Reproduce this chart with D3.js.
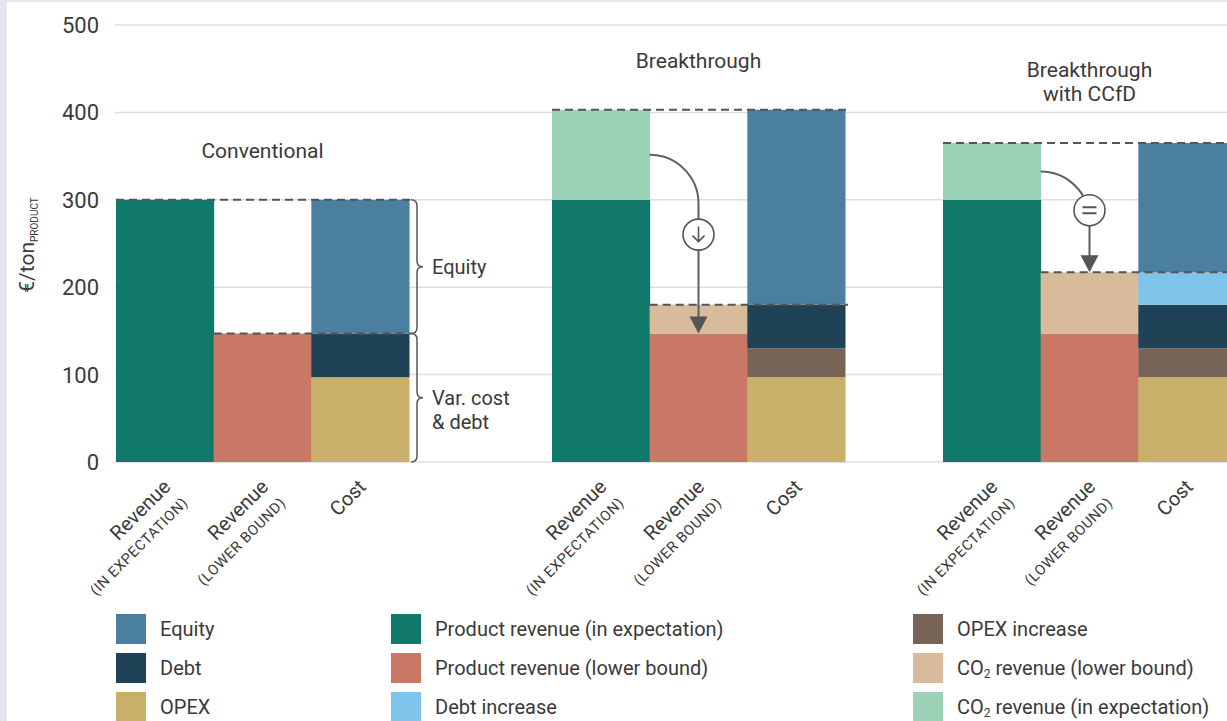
<!DOCTYPE html>
<html>
<head>
<meta charset="utf-8">
<script src="https://cdn.jsdelivr.net/npm/d3@7"></script>
<style>
  html, body { margin: 0; padding: 0; background: #e4e6eb; }
  svg { display: block; }
  text { font-family: Roboto, "Liberation Sans", Arial, sans-serif; fill: #3a3a3a; }
</style>
</head>
<body>
<svg id="chart" width="1227" height="721"></svg>
<script>
// ---- data -------------------------------------------------------------
const scenarios = ["Conventional", "Breakthrough", "Breakthrough with CCfD"];
const scenarioTitles = [["Conventional"], ["Breakthrough"], ["Breakthrough", "with CCfD"]];
const columns = ["revExp", "revLow", "cost"];
const columnLabels = [["Revenue", "(IN EXPECTATION)"], ["Revenue", "(LOWER BOUND)"], ["Cost"]];

// €/ton product, one value per scenario
const productRevenueExpected = [300, 300, 300];
const co2RevenueExpected     = [0, 103, 65];
const productRevenueLower    = [147, 147, 147];
const co2RevenueLower        = [0, 33, 70];
const opex                   = [97, 97, 97];
const opexIncrease           = [0, 33, 33];
const debt                   = [50, 50, 50];
const debtIncrease           = [0, 0, 37];
const equity                 = [153, 223, 148];

const yTicks = [0, 100, 200, 300, 400, 500];
const arrowSymbols = [null, "down", "equal"];

const seriesNames = [
  "Equity", "Debt", "OPEX",
  "Product revenue (in expectation)", "Product revenue (lower bound)", "Debt increase",
  "OPEX increase", "CO2 revenue (lower bound)", "CO2 revenue (in expectation)"
];
const seriesColors = [
  "#4a7f9f", "#1f4256", "#c9b06a",
  "#10796a", "#c97865", "#7fc5eb",
  "#786457", "#d7bb9b", "#9bd1b6"
];

// ---- setup ------------------------------------------------------------
const svg = d3.select("#chart");
const color = d3.scaleOrdinal(seriesNames, seriesColors);

const seriesValues = {
  "Product revenue (in expectation)": productRevenueExpected,
  "CO2 revenue (in expectation)": co2RevenueExpected,
  "Product revenue (lower bound)": productRevenueLower,
  "CO2 revenue (lower bound)": co2RevenueLower,
  "OPEX": opex,
  "OPEX increase": opexIncrease,
  "Debt": debt,
  "Debt increase": debtIncrease,
  "Equity": equity
};
const columnKeys = {
  revExp: ["Product revenue (in expectation)", "CO2 revenue (in expectation)"],
  revLow: ["Product revenue (lower bound)", "CO2 revenue (lower bound)"],
  cost: ["OPEX", "OPEX increase", "Debt", "Debt increase", "Equity"]
};

const rows = scenarios.map((s, i) => {
  const r = { scenario: s, index: i };
  for (const k in seriesValues) r[k] = seriesValues[k][i];
  return r;
});

// panel
svg.append("rect").attr("x", 7).attr("y", 2).attr("width", 1220).attr("height", 719).attr("fill", "#fff");

const y = d3.scaleLinear().domain([0, 500]).range([462, 25]);
const groupX = d3.scaleOrdinal(scenarios, [116, 552, 943]);
const band = d3.scaleBand(columns, [0, 293]).padding(0);
const colX = (s, c) => groupX(s) + band(c);

// gridlines + tick labels
const grid = svg.append("g");
grid.selectAll("line").data(yTicks).join("line")
  .attr("x1", 115).attr("x2", 1227)
  .attr("y1", d => y(d)).attr("y2", d => y(d))
  .attr("stroke", "#dedede").attr("stroke-width", 1.5);
grid.selectAll("text").data(yTicks).join("text")
  .attr("x", 99).attr("y", d => y(d)).attr("dy", "0.36em")
  .attr("text-anchor", "end").style("font-size", "22px")
  .text(d => d);

// y-axis title
const yTitle = svg.append("text")
  .attr("transform", `translate(34,245) rotate(-90)`)
  .attr("text-anchor", "middle").style("font-size", "21px");
yTitle.append("tspan").text("€/ton");
yTitle.append("tspan").attr("dy", 4).style("font-size", "10px").text("PRODUCT");

// stacked bars
const bars = svg.append("g");
columns.forEach(c => {
  const stacked = d3.stack().keys(columnKeys[c])(rows);
  stacked.forEach(layer => {
    bars.selectAll(null).data(layer.filter(d => d[1] - d[0] > 0)).join("rect")
      .attr("x", d => colX(d.data.scenario, c))
      .attr("width", band.bandwidth() + 0.5)
      .attr("y", d => y(d[1]))
      .attr("height", d => y(d[0]) - y(d[1]))
      .attr("fill", color(layer.key));
  });
});

const totalOf = (c, i) => d3.sum(columnKeys[c], k => seriesValues[k][i]);

// dashed reference lines (expected total and lower-bound total)
const dash = svg.append("g").attr("stroke", "#555").attr("stroke-width", 2).attr("stroke-dasharray", "8,5").attr("fill", "none");
scenarios.forEach((s, i) => {
  const xEnd = colX(s, "cost") + band.bandwidth() + 3;
  dash.append("line")
    .attr("x1", colX(s, "revExp")).attr("x2", xEnd)
    .attr("y1", y(totalOf("revExp", i))).attr("y2", y(totalOf("revExp", i)));
  dash.append("line")
    .attr("x1", colX(s, "revLow")).attr("x2", xEnd)
    .attr("y1", y(totalOf("revLow", i))).attr("y2", y(totalOf("revLow", i)));
});

// scenario titles
scenarios.forEach((s, i) => {
  const lines = scenarioTitles[i];
  const cx = groupX(s) + 293 / 2;
  const base = y(totalOf("revExp", i)) - 42;
  lines.forEach((t, j) => {
    svg.append("text")
      .attr("x", cx).attr("y", base - (lines.length - 1 - j) * 24)
      .attr("text-anchor", "middle").style("font-size", "21px")
      .text(t);
  });
});

// braces on the conventional cost bar
function brace(x, y1, y2, w) {
  const r = 6, ym = (y1 + y2) / 2, xm = x + w / 2;
  return `M${x},${y1} Q${xm},${y1} ${xm},${y1 + r} L${xm},${ym - r} Q${xm},${ym} ${x + w},${ym}` +
         ` Q${xm},${ym} ${xm},${ym + r} L${xm},${y2 - r} Q${xm},${y2} ${x},${y2}`;
}
{
  const s = scenarios[0];
  const bx = colX(s, "cost") + band.bandwidth() + 2;
  const top = y(totalOf("cost", 0));
  const mid = y(opex[0] + debt[0]);
  const bot = y(0);
  svg.append("path").attr("d", brace(bx, top, mid, 12)).attr("fill", "none").attr("stroke", "#555").attr("stroke-width", 1.5);
  svg.append("path").attr("d", brace(bx, mid, bot, 12)).attr("fill", "none").attr("stroke", "#555").attr("stroke-width", 1.5);
  svg.append("text").attr("x", bx + 21).attr("y", (top + mid) / 2).attr("dy", "0.36em").style("font-size", "20px").text("Equity");
  svg.append("text").attr("x", bx + 21).attr("y", (mid + bot) / 2).attr("dy", "0.36em").style("font-size", "20px").text("Var. cost");
  svg.append("text").attr("x", bx + 21).attr("y", (mid + bot) / 2 + 24).attr("dy", "0.36em").style("font-size", "20px").text("& debt");
}

// arrows from expected CO2 revenue down to the lower bound
const badgeOffset = { down: 31, equal: -10 };
scenarios.forEach((s, i) => {
  const sym = arrowSymbols[i];
  if (!sym) return;
  const bw = band.bandwidth();
  const r = bw / 2;
  const xs = colX(s, "revExp") + bw;
  const ys = y(productRevenueExpected[i] + co2RevenueExpected[i] / 2);
  const xc = xs + r;
  const tipY = sym === "down" ? y(productRevenueLower[i]) : y(totalOf("revLow", i));
  const headH = 17, headW = 9;
  const g = svg.append("g");
  g.append("path")
    .attr("d", `M${xs},${ys} A${r},${r} 0 0 1 ${xc},${ys + r} L${xc},${tipY - headH + 1}`)
    .attr("fill", "none").attr("stroke", "#5f5f5f").attr("stroke-width", 2);
  g.append("path")
    .attr("d", `M${xc - headW},${tipY - headH} L${xc + headW},${tipY - headH} L${xc},${tipY} Z`)
    .attr("fill", "#555");
  const by = ys + r + badgeOffset[sym];
  g.append("circle").attr("cx", xc).attr("cy", by).attr("r", 15.5)
    .attr("fill", "#fff").attr("stroke", "#555").attr("stroke-width", 1.6);
  if (sym === "down") {
    g.append("path")
      .attr("d", `M${xc},${by - 8} L${xc},${by + 7} M${xc - 6},${by + 1} L${xc},${by + 7} L${xc + 6},${by + 1}`)
      .attr("fill", "none").attr("stroke", "#555").attr("stroke-width", 1.6);
  } else {
    g.append("path")
      .attr("d", `M${xc - 7},${by - 3} L${xc + 7},${by - 3} M${xc - 7},${by + 3} L${xc + 7},${by + 3}`)
      .attr("fill", "none").attr("stroke", "#555").attr("stroke-width", 2);
  }
});

// rotated column labels
scenarios.forEach(s => {
  columns.forEach((c, j) => {
    const cx = colX(s, c) + band.bandwidth() / 2;
    const t = svg.append("text")
      .attr("transform", `translate(${cx + 7},488) rotate(-45)`)
      .attr("text-anchor", "end");
    const lines = columnLabels[j];
    t.append("tspan").attr("x", 0).attr("y", 0).style("font-size", "20px").text(lines[0]);
    if (lines[1]) {
      t.append("tspan").attr("x", 1).attr("y", 23)
        .style("font-size", "14.5px").style("letter-spacing", "0.6px").text(lines[1]);
    }
  });
});

// legend, three columns of three
const legendCols = [116, 391, 913];
const legendRows = [614, 653, 692];
const legend = svg.append("g");
seriesNames.forEach((name, i) => {
  const lx = legendCols[Math.floor(i / 3)];
  const ly = legendRows[i % 3];
  legend.append("rect").attr("x", lx).attr("y", ly).attr("width", 30).attr("height", 30).attr("fill", color(name));
  const t = legend.append("text").attr("x", lx + 44).attr("y", ly + 15).attr("dy", "0.36em").style("font-size", "20px");
  if (name.startsWith("CO2")) {
    t.append("tspan").text("CO");
    t.append("tspan").attr("dy", 3).style("font-size", "12px").text("2");
    t.append("tspan").attr("dy", -3).text(name.slice(3));
  } else {
    t.text(name);
  }
});
</script>
</body>
</html>
